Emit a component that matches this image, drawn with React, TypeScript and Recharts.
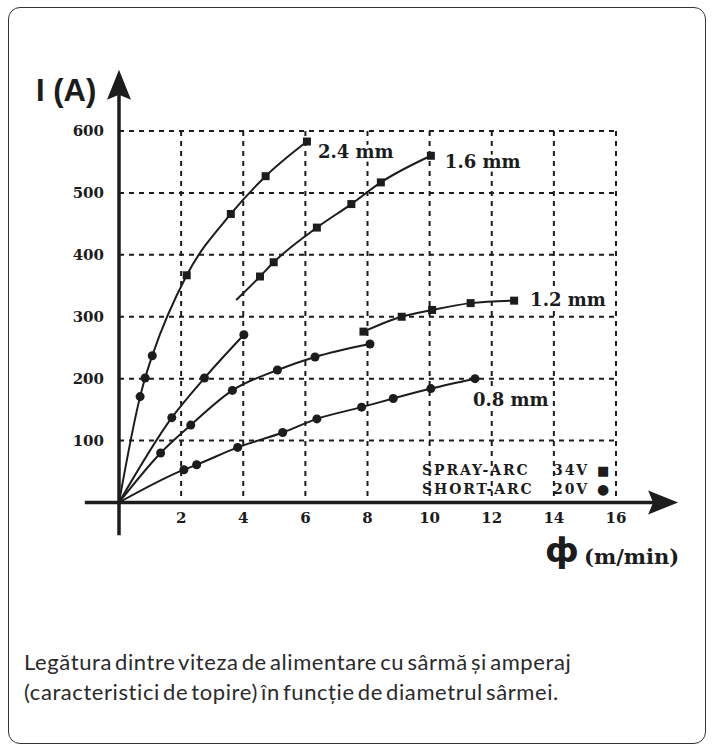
import React from 'react';
import {
  ComposedChart,
  Line,
  Scatter,
  XAxis,
  YAxis,
  CartesianGrid,
  ReferenceLine,
  ReferenceDot,
} from 'recharts';

const xTicks = [2, 4, 6, 8, 10, 12, 14, 16];
const yTicks = [100, 200, 300, 400, 500, 600];

// wire feed (m/min) and current (A)
const short24X = [0.68, 0.84, 1.07];
const short24Y = [171, 201, 237];
const spray24X = [2.18, 3.6, 4.72, 6.05];
const spray24Y = [367, 466, 527, 583];

const short16X = [1.7, 2.75, 4.02];
const short16Y = [137, 201, 271];
const tail16X = [3.77];
const tail16Y = [327];
const spray16X = [4.54, 4.98, 6.37, 7.48, 8.43, 10.04];
const spray16Y = [365, 388, 444, 482, 517, 560];

const short12X = [1.34, 2.31, 3.65, 5.1, 6.31, 8.08];
const short12Y = [80, 125, 181, 214, 235, 256];
const spray12X = [7.87, 9.1, 10.08, 11.32, 12.72];
const spray12Y = [276, 300, 311, 322, 326];

const short08X = [2.09, 2.5, 3.82, 5.27, 6.37, 7.81, 8.83, 10.04, 11.46];
const short08Y = [53, 61, 89, 113, 135, 154, 168, 184, 200];

const originX = [0];
const originY = [0];

const labels = ['2.4 mm', '1.6 mm', '1.2 mm', '0.8 mm'];

const pts = (xs: number[], ys: number[]) => xs.map((x, i) => ({ x, y: ys[i] }));

const line24 = [...pts(originX, originY), ...pts(short24X, short24Y), ...pts(spray24X, spray24Y)];
const line16s = [...pts(originX, originY), ...pts(short16X, short16Y)];
const line16 = [...pts(tail16X, tail16Y), ...pts(spray16X, spray16Y)];
const line12s = [...pts(originX, originY), ...pts(short12X, short12Y)];
const line12 = pts(spray12X, spray12Y);
const line08 = [...pts(originX, originY), ...pts(short08X, short08Y)];

const squares = [...pts(spray24X, spray24Y), ...pts(spray16X, spray16Y), ...pts(spray12X, spray12Y)];
const circles = [
  ...pts(short24X, short24Y),
  ...pts(short16X, short16Y),
  ...pts(short12X, short12Y),
  ...pts(short08X, short08Y),
];

const last = (xs: number[], ys: number[]) => ({ x: xs[xs.length - 1], y: ys[ys.length - 1] });
const ends = [last(spray24X, spray24Y), last(spray16X, spray16Y), last(spray12X, spray12Y), last(short08X, short08Y)];
const labelOffsets = [
  [11, 16],
  [14, 12],
  [16, 5],
  [-2, 27],
];

const INK = '#1c1c1c';
const serif = '"DejaVu Serif", serif';

const Arrow = (props: any) => {
  const { x1, y1, x2, y2 } = props;
  const dx = x2 - x1;
  const dy = y2 - y1;
  const len = Math.hypot(dx, dy);
  const ux = dx / len;
  const uy = dy / len;
  const head = 30;
  const half = 12;
  const bx = x2 - ux * head;
  const by = y2 - uy * head;
  const nx = bx + ux * 5;
  const ny = by + uy * 5;
  const px = -uy;
  const py = ux;
  return (
    <g>
      <line x1={x1} y1={y1} x2={nx} y2={ny} stroke={INK} strokeWidth={3.5} />
      <polygon
        points={`${x2},${y2} ${bx + px * half},${by + py * half} ${nx},${ny} ${bx - px * half},${by - py * half}`}
        fill={INK}
      />
    </g>
  );
};

const makeLabel = (text: string, off: number[]) => (p: any) => (
  <text
    x={p.cx + off[0]}
    y={p.cy + off[1]}
    fontFamily={serif}
    fontWeight={700}
    fontSize={18}
    fill={INK}
    stroke="#fff"
    strokeWidth={7}
    paintOrder="stroke"
  >
    {text}
  </text>
);

const lineProps = {
  dataKey: 'y',
  type: 'monotone' as const,
  stroke: INK,
  strokeWidth: 2,
  dot: false,
  activeDot: false,
  isAnimationActive: false,
};

export default function App() {
  return (
    <div style={{ position: 'absolute', left: 0, top: 0, width: 714, height: 749, background: '#fff' }}>
      <div
        style={{
          position: 'absolute',
          left: 8,
          top: 7,
          width: 698,
          height: 737,
          border: '1.6px solid #333',
          borderRadius: 12,
          boxSizing: 'border-box',
        }}
      />
      <div style={{ position: 'absolute', left: 0, top: 0 }}>
        <ComposedChart width={714} height={749} margin={{ top: 131, right: 98, bottom: 216.5, left: 79 }}>
          <CartesianGrid stroke={INK} strokeWidth={2} strokeDasharray="5 5" />
          <XAxis
            type="number"
            dataKey="x"
            domain={[0, 16]}
            ticks={xTicks}
            interval={0}
            axisLine={false}
            tickLine={false}
            tickMargin={4}
            height={30}
            tick={{ fontFamily: serif, fontWeight: 700, fontSize: 15, fill: INK }}
          />
          <YAxis
            type="number"
            domain={[0, 600]}
            ticks={yTicks}
            interval={0}
            axisLine={false}
            tickLine={false}
            tickMargin={9}
            width={40}
            tick={{ fontFamily: serif, fontWeight: 700, fontSize: 15, fill: INK }}
          />
          <Line data={line24} {...lineProps} />
          <Line data={line16s} {...lineProps} />
          <Line data={line16} {...lineProps} />
          <Line data={line12s} {...lineProps} />
          <Line data={line12} {...lineProps} />
          <Line data={line08} {...lineProps} />
          <Scatter data={squares} dataKey="y" shape="square" fill={INK} isAnimationActive={false} />
          <Scatter data={circles} dataKey="y" shape="circle" fill={INK} isAnimationActive={false} />
          <ReferenceLine
            segment={[{ x: 0, y: -53 }, { x: 0, y: 699 }]}
            ifOverflow="visible"
            shape={Arrow}
          />
          <ReferenceLine
            segment={[{ x: -1.1, y: 0 }, { x: 18, y: 0 }]}
            ifOverflow="visible"
            shape={Arrow}
          />
          {ends.map((e, i) => (
            <ReferenceDot
              key={labels[i]}
              x={e.x}
              y={e.y}
              r={1}
              ifOverflow="visible"
              shape={makeLabel(labels[i], labelOffsets[i])}
            />
          ))}
        </ComposedChart>
      </div>
      <svg
        width={714}
        height={749}
        style={{ position: 'absolute', left: 0, top: 0, pointerEvents: 'none' }}
      >
        <text x={36} y={101} fontFamily='"Liberation Sans", Arial, sans-serif' fontWeight={700} fontSize={31} fill={INK}>
          I (A)
        </text>
        <g fontFamily={serif} fontWeight={700} fontSize={14} fill={INK} letterSpacing={1.9}>
          <text x={422} y={475}>SPRAY-ARC</text>
          <text x={553} y={475}>34V</text>
          <text x={422} y={494}>SHORT-ARC</text>
          <text x={553} y={494}>20V</text>
        </g>
        <text x={597} y={475} fontFamily='"DejaVu Sans", sans-serif' fontSize={13} fill={INK}>■</text>
        <text x={597} y={494} fontFamily='"DejaVu Sans", sans-serif' fontSize={14} fill={INK}>●</text>
        <text x={545} y={562} fontFamily='"DejaVu Sans", sans-serif' fontWeight={700} fontSize={34} fill={INK}>
          ф
        </text>
        <text x={584} y={564} fontFamily={serif} fontWeight={700} fontSize={21} fill={INK}>
          (m/min)
        </text>
      </svg>
      <div
        style={{
          position: 'absolute',
          left: 24,
          top: 647,
          width: 690,
          fontFamily: 'Lato, "Noto Sans", sans-serif',
          fontSize: 22,
          lineHeight: '30px',
          color: '#2a2a2a',
          letterSpacing: 0.58,
          wordSpacing: -3,
          whiteSpace: 'nowrap',
        }}
      >
        Legătura dintre viteza de alimentare cu sârmă și amperaj
        <br />
        (caracteristici de topire) în funcție de diametrul sârmei.
      </div>
    </div>
  );
}
